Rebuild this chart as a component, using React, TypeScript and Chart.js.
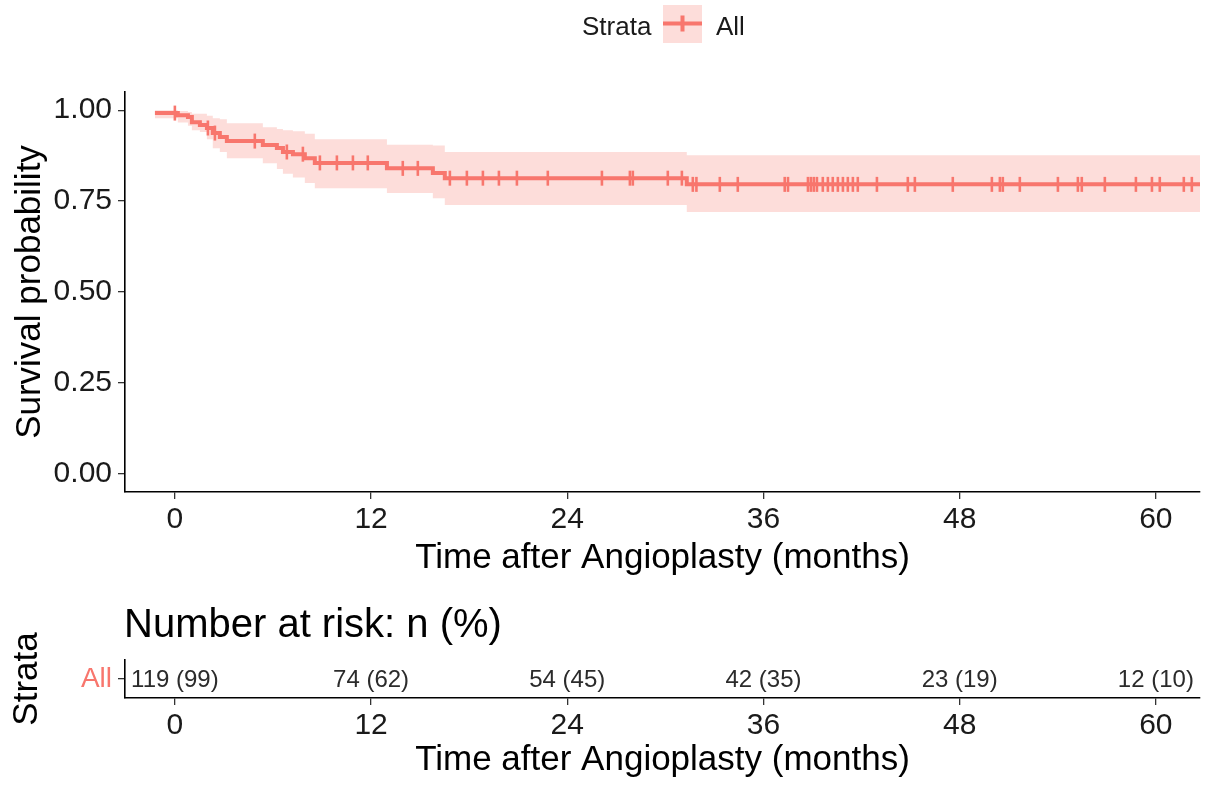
import React, { useEffect, useRef } from 'react';
import { Chart, registerables } from 'chart.js';

Chart.register(...registerables);

const FONT = '"Liberation Sans", Arial, Helvetica, sans-serif';
const RED = '#F8766D';
const BAND = 'rgba(248,118,109,0.25)';
const TEXT = '#1a1a1a';

const STRATA_TITLE = 'Strata';
const STRATA = ['All'];
const X_TITLE = 'Time after Angioplasty (months)';
const Y_TITLE = 'Survival probability';
const RISK_TITLE = 'Number at risk: n (%)';

const X_MIN = -3.05;
const X_MAX = 62.7;
const Y_MIN = -0.05;
const Y_MAX = 1.05;
const X_TICKS = [0, 12, 24, 36, 48, 60];
const Y_TICKS = [0, 0.25, 0.5, 0.75, 1];

// Kaplan-Meier steps (value after each time)
const STEP_TIMES = [-1.22, 0.18, 0.8, 1.04, 1.53, 1.96, 2.32, 2.75, 3.18, 5.38, 6.24, 6.61, 7.22, 7.95, 8.56, 12.97, 15.78, 16.51, 31.31, 62.7];
const SURV = [0.992, 0.986, 0.981, 0.967, 0.959, 0.951, 0.937, 0.926, 0.915, 0.904, 0.896, 0.885, 0.879, 0.868, 0.855, 0.84, 0.827, 0.813, 0.796, 0.796];
const UPPER = [1.0, 0.998, 0.995, 0.99, 0.99, 0.985, 0.978, 0.975, 0.964, 0.953, 0.948, 0.945, 0.942, 0.935, 0.92, 0.905, 0.903, 0.885, 0.876, 0.876];
const LOWER = [0.978, 0.966, 0.957, 0.945, 0.94, 0.92, 0.895, 0.885, 0.868, 0.854, 0.838, 0.825, 0.815, 0.8, 0.785, 0.772, 0.758, 0.739, 0.72, 0.72];

const CENSOR_TIMES = [
  0.0, 2.02, 2.45, 4.89, 6.85, 7.83, 8.87, 9.91, 10.89, 11.8, 13.94, 14.86, 16.82, 17.86, 18.84,
  19.82, 20.92, 22.81, 26.12, 27.83, 28.01, 30.15, 31.01, 31.68, 31.9, 33.33, 34.43, 37.3, 37.5,
  38.72, 38.9, 39.08, 39.27, 39.63, 39.94, 40.24, 40.55, 40.86, 41.16, 41.47, 41.77, 42.94, 44.83,
  45.26, 47.58, 49.97, 50.46, 50.64, 51.68, 54.01, 55.23, 55.47, 56.88, 58.78, 59.76, 60.24, 61.71, 62.2,
];

const RISK_TIMES = [0, 12, 24, 36, 48, 60];
const RISK_N = [119, 74, 54, 42, 23, 12];
const RISK_PCT = [99, 62, 45, 35, 19, 10];

function survAt(t: number): number {
  let v = SURV[0];
  for (let i = 0; i < STEP_TIMES.length; i++) {
    if (STEP_TIMES[i] <= t) v = SURV[i];
  }
  return v;
}

const xScaleBase = (height: number, titlePadBottom: number) => ({
  type: 'linear' as const,
  min: X_MIN,
  max: X_MAX,
  afterBuildTicks: (s: any) => {
    s.ticks = X_TICKS.map((v) => ({ value: v }));
  },
  afterFit: (s: any) => {
    s.height = height;
  },
  grid: { drawOnChartArea: false, drawTicks: true, tickLength: 7, color: '#333', lineWidth: 1.3 },
  border: { display: true, color: '#000', width: 1.6 },
  ticks: { font: { size: 30, family: FONT }, color: TEXT, padding: 3, maxRotation: 0, autoSkip: false },
  title: { display: true, text: X_TITLE, font: { size: 35, family: FONT }, color: '#000', padding: { top: 0, bottom: titlePadBottom } },
});

const legendPlugin = {
  id: 'kmLegend',
  afterDraw(chart: any) {
    const ctx = chart.ctx;
    ctx.save();
    ctx.font = `26px ${FONT}`;
    ctx.fillStyle = TEXT;
    ctx.textAlign = 'left';
    ctx.textBaseline = 'alphabetic';
    ctx.fillText(STRATA_TITLE, 582, 35);
    ctx.fillStyle = BAND;
    ctx.fillRect(663, 5, 39, 38);
    ctx.strokeStyle = RED;
    ctx.lineWidth = 4;
    ctx.beginPath();
    ctx.moveTo(663, 23.5);
    ctx.lineTo(702, 23.5);
    ctx.moveTo(682.5, 15.5);
    ctx.lineTo(682.5, 31.5);
    ctx.stroke();
    ctx.fillStyle = TEXT;
    ctx.fillText(STRATA[0], 716, 35);
    ctx.restore();
  },
};

const riskPlugin = {
  id: 'riskTable',
  afterDatasetsDraw(chart: any) {
    const ctx = chart.ctx;
    const meta = chart.getDatasetMeta(0);
    ctx.save();
    ctx.font = `40px ${FONT}`;
    ctx.fillStyle = '#000';
    ctx.textAlign = 'left';
    ctx.textBaseline = 'middle';
    ctx.fillText(RISK_TITLE, chart.chartArea.left - 1, 36);
    ctx.font = `24px ${FONT}`;
    ctx.fillStyle = '#2b2b2b';
    ctx.textAlign = 'center';
    meta.data.forEach((el: any, i: number) => {
      ctx.fillText(`${RISK_N[i]} (${RISK_PCT[i]})`, el.x, el.y + 1);
    });
    ctx.restore();
  },
};

export default function App() {
  const mainRef = useRef<HTMLCanvasElement | null>(null);
  const riskRef = useRef<HTMLCanvasElement | null>(null);

  useEffect(() => {
    if (!mainRef.current || !riskRef.current) return;
    const survPts = STEP_TIMES.map((t, i) => ({ x: t, y: SURV[i] }));
    const upperPts = STEP_TIMES.map((t, i) => ({ x: t, y: UPPER[i] }));
    const lowerPts = STEP_TIMES.map((t, i) => ({ x: t, y: LOWER[i] }));
    const censorPts = CENSOR_TIMES.map((t) => ({ x: t, y: survAt(t) }));

    const main = new Chart(mainRef.current, {
      type: 'line',
      data: {
        datasets: [
          {
            label: 'censor',
            data: censorPts,
            showLine: false,
            pointStyle: 'line',
            rotation: 90,
            pointRadius: 7.5,
            pointBorderWidth: 2.6,
            pointBorderColor: RED,
            pointBackgroundColor: RED,
            borderColor: RED,
          } as any,
          {
            label: STRATA[0],
            data: survPts,
            stepped: true,
            borderColor: RED,
            borderWidth: 4,
            pointRadius: 0,
            fill: false,
          },
          {
            label: 'upper',
            data: upperPts,
            stepped: true,
            borderColor: 'transparent',
            borderWidth: 0,
            pointRadius: 0,
            backgroundColor: BAND,
            fill: '+1',
          },
          {
            label: 'lower',
            data: lowerPts,
            stepped: true,
            borderColor: 'transparent',
            borderWidth: 0,
            pointRadius: 0,
            fill: false,
          },
        ],
      },
      options: {
        responsive: false,
        animation: false,
        devicePixelRatio: 1,
        layout: { padding: { left: 0, right: 12, top: 92, bottom: 0 } },
        plugins: { legend: { display: false }, tooltip: { enabled: false } },
        scales: {
          x: xScaleBase(98, 11) as any,
          y: {
            type: 'linear',
            min: Y_MIN,
            max: Y_MAX,
            afterBuildTicks: (s: any) => {
              s.ticks = Y_TICKS.map((v) => ({ value: v }));
            },
            afterFit: (s: any) => {
              s.width = 125;
            },
            grid: { drawOnChartArea: false, drawTicks: true, tickLength: 7, color: '#333', lineWidth: 1.3 },
            border: { display: true, color: '#000', width: 1.6 },
            ticks: {
              font: { size: 30, family: FONT },
              color: TEXT,
              padding: 6,
              callback: (v: any) => Number(v).toFixed(2),
            },
            title: { display: true, text: Y_TITLE, font: { size: 35, family: FONT }, color: '#000', padding: { top: 9, bottom: 0 } },
          } as any,
        },
      },
      plugins: [legendPlugin],
    });

    const risk = new Chart(riskRef.current, {
      type: 'scatter',
      data: {
        datasets: [
          {
            label: STRATA[0],
            data: RISK_TIMES.map((t) => ({ x: t, y: STRATA[0] })) as any,
            pointRadius: 0,
          },
        ],
      },
      options: {
        responsive: false,
        animation: false,
        devicePixelRatio: 1,
        layout: { padding: { left: 0, right: 12, top: 70, bottom: 0 } },
        plugins: { legend: { display: false }, tooltip: { enabled: false } },
        scales: {
          x: xScaleBase(89, 6) as any,
          y: {
            type: 'category',
            labels: STRATA,
            offset: true,
            afterFit: (s: any) => {
              s.width = 125;
            },
            grid: { drawOnChartArea: false, drawTicks: true, tickLength: 7, color: '#333', lineWidth: 1.3 },
            border: { display: true, color: '#000', width: 1.6 },
            ticks: { font: { size: 28, family: FONT }, color: RED, padding: 6 },
            title: { display: true, text: STRATA_TITLE, font: { size: 35, family: FONT }, color: '#000', padding: { top: 6, bottom: 0 } },
          } as any,
        },
      },
      plugins: [riskPlugin],
    });

    return () => {
      main.destroy();
      risk.destroy();
    };
  }, []);

  return (
    <div style={{ position: 'absolute', left: 0, top: 0, width: 1212, height: 787, background: '#fff' }}>
      <canvas ref={mainRef} width={1212} height={590} style={{ display: 'block' }} />
      <canvas ref={riskRef} width={1212} height={197} style={{ display: 'block' }} />
    </div>
  );
}
